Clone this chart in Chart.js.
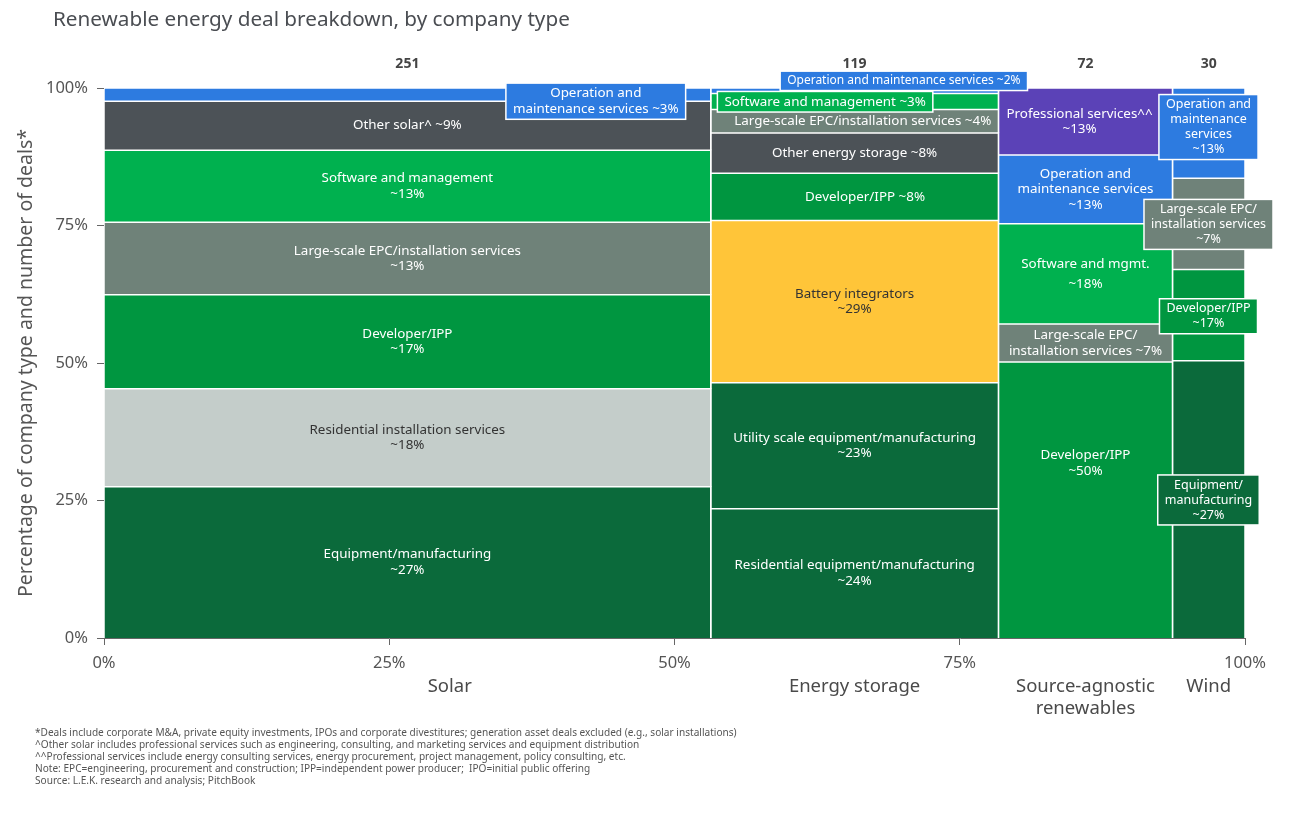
<!DOCTYPE html>
<html>
<head>
<meta charset="utf-8">
<script src="https://cdn.jsdelivr.net/npm/chart.js@4.4.1/dist/chart.umd.min.js"></script>
<style>
  html, body { margin: 0; background: #fff; }
  #wrap { width: 1300px; height: 814px; position: relative; }
</style>
</head>
<body>
<div id="wrap"><canvas id="chart"></canvas></div>
<script>
// Columns (width = number of deals)
const columnNames = [['Solar'], ['Energy storage'], ['Source-agnostic', 'renewables'], ['Wind']];
const dealCounts = [251, 119, 72, 30];

// Share of company types per column, bottom to top (%)
const solarTypes = ['equip', 'resInstall', 'dev', 'epc', 'software', 'other', 'om'];
const solarShares = [27.5, 17.8, 17.1, 13.2, 13.1, 8.9, 2.4];
const solarLabels = [
  'Equipment/manufacturing\n~27%',
  'Residential installation services\n~18%',
  'Developer/IPP\n~17%',
  'Large-scale EPC/installation services\n~13%',
  'Software and management\n~13%',
  'Other solar^ ~9%',
  'Operation and\nmaintenance services ~3%'
];

const storageTypes = ['equip', 'equip', 'battery', 'dev', 'other', 'epc', 'software', 'om'];
const storageShares = [23.5, 22.9, 29.5, 8.6, 7.3, 4.3, 2.9, 1.0];
const storageLabels = [
  'Residential equipment/manufacturing\n~24%',
  'Utility scale equipment/manufacturing\n~23%',
  'Battery integrators\n~29%',
  'Developer/IPP ~8%',
  'Other energy storage ~8%',
  'Large-scale EPC/installation services ~4%',
  'Software and management ~3%',
  'Operation and maintenance services ~2%'
];

const agnosticTypes = ['dev', 'epc', 'software', 'om', 'prof'];
const agnosticShares = [50.2, 6.9, 18.2, 12.5, 12.2];
const agnosticLabels = [
  'Developer/IPP\n~50%',
  'Large-scale EPC/\ninstallation services ~7%',
  'Software and mgmt.\n\n~18%',
  'Operation and\nmaintenance services\n~13%',
  'Professional services^^\n~13%'
];

const windTypes = ['equip', 'dev', 'epc', 'om'];
const windShares = [50.4, 16.6, 16.6, 16.4];
const windLabels = [
  'Equipment/\nmanufacturing\n~27%',
  'Developer/IPP\n~17%',
  'Large-scale EPC/\ninstallation services\n~7%',
  'Operation and\nmaintenance\nservices\n~13%'
];

const axisTicks = [0, 25, 50, 75, 100];

const footnotes = [
  '*Deals include corporate M&A, private equity investments, IPOs and corporate divestitures; generation asset deals excluded (e.g., solar installations)',
  '^Other solar includes professional services such as engineering, consulting, and marketing services and equipment distribution',
  '^^Professional services include energy consulting services, energy procurement, project management, policy consulting, etc.',
  'Note: EPC=engineering, procurement and construction; IPP=independent power producer;  IPO=initial public offering',
  'Source: L.E.K. research and analysis; PitchBook'
];

// Styles
const typeColors = {
  equip: '#0b6a3b',
  resInstall: '#c4cdca',
  dev: '#009640',
  epc: '#6f8279',
  software: '#00b14f',
  other: '#4c5257',
  om: '#2d7be0',
  battery: '#ffc539',
  prof: '#5b42b7'
};
const darkText = ['resInstall', 'battery'];

// Label placements that differ from the segment centre (data units); box = callout
const placements = {
  '0-6': { x: 43.1, y: 97.6, box: true },
  '1-3': { x: 66.7 },
  '1-5': { x: 66.5 },
  '1-6': { x: 63.2, y: 97.5, box: true },
  '1-7': { x: 70.1, y: 101.3, box: true, size: 12 },
  '2-0': { y: 31.8 },
  '2-4': { x: 85.5 },
  '3-0': { x: 96.8, y: 25.1, box: true, size: 12.5 },
  '3-1': { x: 96.8, y: 58.5, box: true, size: 12.5 },
  '3-2': { x: 96.8, y: 75.2, box: true, size: 12.5 },
  '3-3': { x: 96.8, y: 92.9, box: true, size: 12.5 }
};
const columnLabelX = [30.3, null, null, null];

const FONT = '"Noto Sans", Lato, sans-serif';
const shareSets = [solarShares, storageShares, agnosticShares, windShares];
const typeSets = [solarTypes, storageTypes, agnosticTypes, windTypes];
const labelSets = [solarLabels, storageLabels, agnosticLabels, windLabels];

// Build one closed shape per segment
const total = dealCounts.reduce((a, b) => a + b, 0);
const colBounds = [];
const datasets = [];
let xStart = 0;
shareSets.forEach((shares, c) => {
  const x0 = xStart;
  const x1 = xStart + dealCounts[c] / total * 100;
  colBounds.push([x0, x1]);
  let y0 = 0;
  shares.forEach((s, i) => {
    const y1 = y0 + s;
    const type = typeSets[c][i];
    datasets.push({
      data: [{ x: x0, y: y0 }, { x: x0, y: y1 }, { x: x1, y: y1 }, { x: x1, y: y0 }],
      backgroundColor: typeColors[type],
      borderColor: '#ffffff',
      borderWidth: 1.5,
      fill: 'shape',
      pointRadius: 0,
      tension: 0,
      seg: { c, i, x0, x1, y0, y1, type, label: labelSets[c][i] }
    });
    y0 = y1;
  });
  xStart = x1;
});

function drawLines(ctx, lines, cx, cy, lh) {
  const top = cy - (lines.length - 1) * lh / 2;
  lines.forEach((t, k) => ctx.fillText(t, cx, top + k * lh));
}

const labelPlugin = {
  id: 'segLabels',
  afterDatasetsDraw(chart) {
    const { ctx, scales: { x, y } } = chart;
    ctx.save();
    ctx.textAlign = 'center';
    ctx.textBaseline = 'middle';
    chart.data.datasets.forEach(ds => {
      const m = ds.seg;
      const p = placements[m.c + '-' + m.i] || {};
      const size = p.size || 13.4;
      const lh = Math.min(size * 1.2, 15.6);
      ctx.font = size + 'px ' + FONT;
      const cx = x.getPixelForValue(p.x !== undefined ? p.x : (m.x0 + m.x1) / 2);
      const cy = y.getPixelForValue(p.y !== undefined ? p.y : (m.y0 + m.y1) / 2);
      const lines = m.label.split('\n');
      if (p.box) {
        const w = Math.max(...lines.map(t => ctx.measureText(t).width)) + 14;
        const h = lines.length * lh + 5;
        ctx.fillStyle = typeColors[m.type];
        ctx.fillRect(cx - w / 2, cy - h / 2, w, h);
        ctx.strokeStyle = '#ffffff';
        ctx.lineWidth = 1.5;
        ctx.strokeRect(cx - w / 2, cy - h / 2, w, h);
      }
      ctx.fillStyle = darkText.includes(m.type) ? '#333333' : '#ffffff';
      drawLines(ctx, lines, cx, cy, m.c === 2 && m.i === 2 ? 10 : lh);
    });
    ctx.restore();
  },
  afterDraw(chart) {
    const { ctx, chartArea, scales: { x } } = chart;
    ctx.save();
    ctx.textBaseline = 'middle';
    // title
    ctx.fillStyle = '#4a4d52';
    ctx.font = '20.7px ' + FONT;
    ctx.textAlign = 'left';
    ctx.fillText('Renewable energy deal breakdown, by company type', 53, 20);
    // deal counts and column names
    ctx.textAlign = 'center';
    colBounds.forEach(([x0, x1], c) => {
      const cx = x.getPixelForValue((x0 + x1) / 2);
      ctx.fillStyle = '#444444';
      ctx.font = 'bold 14px ' + FONT;
      ctx.fillText(String(dealCounts[c]), cx, chartArea.top - 24);
      const lx = columnLabelX[c] !== null ? x.getPixelForValue(columnLabelX[c]) : cx;
      ctx.font = '18.5px ' + FONT;
      ctx.fillStyle = '#4a4a4a';
      columnNames[c].forEach((t, k) => ctx.fillText(t, lx, chartArea.bottom + 49 + k * 22));
    });
    // footnotes
    ctx.textAlign = 'left';
    ctx.font = '10.1px ' + FONT;
    ctx.fillStyle = '#555555';
    footnotes.forEach((t, k) => ctx.fillText(t, 35, 733 + k * 12));
    ctx.restore();
  }
};

new Chart(document.getElementById('chart'), {
  type: 'line',
  data: { datasets },
  options: {
    responsive: true,
    maintainAspectRatio: false,
    animation: false,
    layout: { padding: { top: 88, right: 55, left: 0, bottom: 0 } },
    plugins: {
      legend: { display: false },
      tooltip: { enabled: false }
    },
    scales: {
      x: {
        type: 'linear',
        min: 0,
        max: 100,
        afterBuildTicks: s => { s.ticks = axisTicks.map(v => ({ value: v })); },
        afterFit: s => { s.height = 176; },
        ticks: {
          color: '#555555',
          font: { family: FONT, size: 16.5 },
          padding: 8,
          callback: v => v + '%'
        },
        grid: { drawOnChartArea: false, drawTicks: true, tickLength: 7, color: '#666666' },
        border: { display: true, color: '#666666' }
      },
      y: {
        type: 'linear',
        min: 0,
        max: 100,
        afterBuildTicks: s => { s.ticks = axisTicks.map(v => ({ value: v })); },
        afterFit: s => { s.width = 104; },
        ticks: {
          color: '#555555',
          font: { family: FONT, size: 16.5 },
          padding: 9,
          callback: v => v + '%'
        },
        grid: { drawOnChartArea: false, drawTicks: true, tickLength: 7, color: '#666666' },
        border: { display: true, color: '#666666' },
        title: {
          display: true,
          text: 'Percentage of company type and number of deals*',
          color: '#555555',
          font: { family: FONT, size: 19.5 },
          padding: { top: 15, bottom: 0 }
        }
      }
    }
  },
  plugins: [labelPlugin]
});
</script>
</body>
</html>
